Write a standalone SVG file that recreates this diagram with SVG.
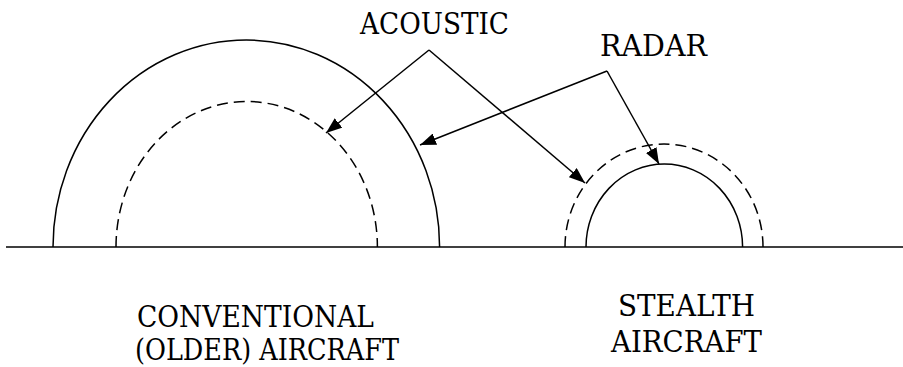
<svg xmlns="http://www.w3.org/2000/svg" width="903" height="367" viewBox="0 0 903 367">
<style>
.ln{fill:none;stroke:#000;stroke-width:1.5}
.dash{stroke-dasharray:11 6}
.t{font-family:'DejaVu Serif','Liberation Serif',serif;font-size:29px;fill:#000}
</style>
<defs>
<marker id="ah" markerUnits="userSpaceOnUse" markerWidth="16" markerHeight="12" refX="16" refY="6" orient="auto">
<path d="M0,0 L16,6 L0,12 z" fill="#000"/>
</marker>
</defs>
<rect width="903" height="367" fill="#fff"/>
<g id="ground"><line class="ln" x1="6" y1="247" x2="903" y2="247"/></g>
<g id="conventional">
<path class="ln" d="M53,247 A193.3,207 0 0 1 439.6,247"/>
<path class="ln dash" d="M116,247 A130.7,145.5 0 0 1 377.4,247"/>
<text class="t" x="137" y="327" textLength="237" lengthAdjust="spacingAndGlyphs">CONVENTIONAL</text>
<text class="t" x="135" y="360" textLength="264" lengthAdjust="spacingAndGlyphs">(OLDER) AIRCRAFT</text>
</g>
<g id="stealth">
<path class="ln" d="M586,247 A78.3,83 0 0 1 742.6,247"/>
<path class="ln dash" d="M565,247 A99,103 0 0 1 763,247"/>
<text class="t" x="618" y="316" textLength="137" lengthAdjust="spacingAndGlyphs">STEALTH</text>
<text class="t" x="611" y="352" textLength="151" lengthAdjust="spacingAndGlyphs">AIRCRAFT</text>
</g>
<g id="acoustic-label"><text class="t" x="360" y="34" textLength="149" lengthAdjust="spacingAndGlyphs">ACOUSTIC</text></g>
<g id="radar-label"><text class="t" x="600" y="56" textLength="107" lengthAdjust="spacingAndGlyphs">RADAR</text></g>
<g id="connectors">
<line class="ln" x1="429" y1="50" x2="326" y2="133" marker-end="url(#ah)"/>
<line class="ln" x1="429" y1="50" x2="585" y2="183" marker-end="url(#ah)"/>
<line class="ln" x1="607" y1="71" x2="420" y2="145" marker-end="url(#ah)"/>
<line class="ln" x1="607" y1="71" x2="659" y2="164" marker-end="url(#ah)"/>
</g>
</svg>
